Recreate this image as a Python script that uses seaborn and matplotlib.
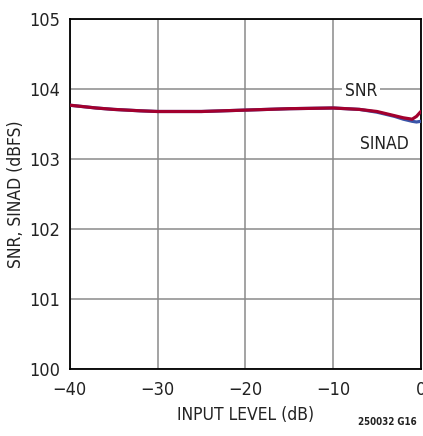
import pandas as pd
import matplotlib
matplotlib.use('Agg')
import matplotlib.pyplot as plt
import seaborn as sns

# values
input_level = [-40, -37, -35, -32, -30, -25, -20, -15, -10, -7, -5, -3, -2, -1, -0.5, 0]
snr = [103.77, 103.73, 103.71, 103.69, 103.68, 103.68, 103.70, 103.72, 103.73, 103.71, 103.68, 103.62, 103.59, 103.57, 103.61, 103.68]
sinad = [103.77, 103.73, 103.71, 103.69, 103.68, 103.68, 103.70, 103.72, 103.73, 103.71, 103.67, 103.61, 103.57, 103.54, 103.53, 103.54]

x_ticks = [-40, -30, -20, -10, 0]
y_ticks = [100, 101, 102, 103, 104, 105]

df = pd.DataFrame({
    'x': input_level * 2,
    'y': sinad + snr,
    'series': ['SINAD'] * len(sinad) + ['SNR'] * len(snr),
})

sns.set_style('white')
plt.rcParams['font.family'] = ['DejaVu Sans']
plt.rcParams['font.stretch'] = 'condensed'

fig = plt.figure(figsize=(4.23, 4.36), dpi=100)
ax = fig.add_axes([0.165, 0.154, 0.830, 0.802])

sns.lineplot(data=df, x='x', y='y', hue='series', palette={'SINAD': '#3a55a8', 'SNR': '#a3002e'},
             linewidth=2.3, legend=False, ax=ax, zorder=3)

ax.set_xlim(-40, 0)
ax.set_ylim(100, 105)
ax.set_xticks(x_ticks)
ax.set_xticklabels(['\u221240', '\u221230', '\u221220', '\u221210', '0'])
ax.set_yticks(y_ticks)
ax.grid(True, color='#8a8a8a', linewidth=1.1)
ax.tick_params(axis='both', length=0, labelsize=13, colors='#222222')
ax.tick_params(axis='x', pad=9)
ax.tick_params(axis='y', pad=7)
for s in ax.spines.values():
    s.set_color('black')
    s.set_linewidth(1.3)
ax.set_xlabel('INPUT LEVEL (dB)', fontsize=12.5, color='#222222', labelpad=5)
ax.set_ylabel('SNR, SINAD (dBFS)', fontsize=12.5, color='#222222', labelpad=3)

ax.text(-6.8, 103.97, 'SNR', fontsize=12.5, color='#222222', ha='center', va='center',
        bbox=dict(facecolor='white', edgecolor='none', pad=2), zorder=4)
ax.text(-4.2, 103.22, 'SINAD', fontsize=12.5, color='#222222', ha='center', va='center', zorder=4)

fig.text(0.985, 0.033, '250032 G16', fontsize=7, ha='right', va='center', color='#222222', weight='bold')

fig.savefig('out.png', dpi=100)
